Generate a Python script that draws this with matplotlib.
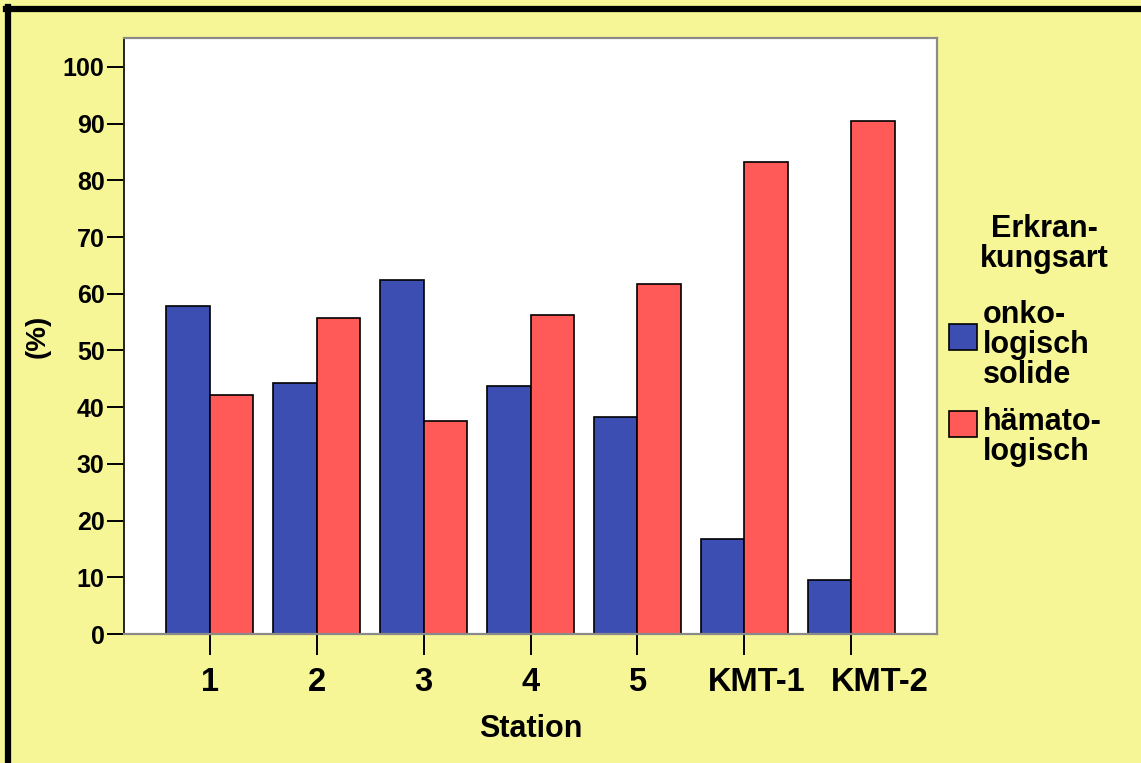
import numpy as np
import matplotlib.pyplot as plt
from matplotlib.lines import Line2D
from matplotlib.transforms import ScaledTranslation

plt.rcParams["font.family"] = ["Liberation Sans", "DejaVu Sans"]
plt.rcParams["font.weight"] = "bold"

stations = ["1", "2", "3", "4", "5", "KMT-1", "KMT-2"]
onko_solide = [57.9, 44.2, 62.5, 43.8, 38.2, 16.7, 9.5]
haemato = [42.1, 55.8, 37.5, 56.2, 61.8, 83.3, 90.5]
yticks = list(range(0, 101, 10))

BG = "#F7F696"
BLUE = "#3C4EB1"
RED = "#FF5A58"

fig = plt.figure(figsize=(11.41, 7.63), dpi=100, facecolor=BG)
ax = fig.add_axes([124 / 1141, 129 / 763, 813 / 1141, 596 / 763])
ax.set_facecolor("white")

x = np.arange(len(stations))
w = 0.41
ax.bar(x - w / 2, onko_solide, w, color=BLUE, edgecolor="black", linewidth=1.2,
       label="onko-\nlogisch\nsolide")
ax.bar(x + w / 2, haemato, w, color=RED, edgecolor="black", linewidth=1.2,
       label="hämato-\nlogisch")

ax.set_xlim(-0.8, 6.8)
ax.set_ylim(0, 105.1)
ax.set_yticks(yticks)
ax.set_xticks(x)
ax.set_xticklabels(stations)

ax.tick_params(axis="y", length=12, width=1.4, pad=2, labelsize=18, direction="out")
ax.tick_params(axis="x", length=15, width=1.4, pad=9, labelsize=23.5, direction="out")

# the long station names sit a little right of their ticks
for lab in ax.get_xticklabels():
    if lab.get_text() == "KMT-1":
        lab.set_transform(lab.get_transform() + ScaledTranslation(0.12, 0, fig.dpi_scale_trans))
    elif lab.get_text() == "KMT-2":
        lab.set_transform(lab.get_transform() + ScaledTranslation(0.28, 0, fig.dpi_scale_trans))

ax.spines["left"].set_color("#222222")
ax.spines["left"].set_linewidth(1.4)
for side in ("top", "right", "bottom"):
    ax.spines[side].set_color("#8a8a8a")
    ax.spines[side].set_linewidth(1.6)

ax.set_xlabel("Station", fontsize=22, fontweight="bold", labelpad=11)
ax.set_ylabel("(%)", fontsize=20, fontweight="bold", labelpad=9)

leg = ax.legend(loc="upper left", bbox_to_anchor=(949 / 1141, 1 - 300 / 763),
                bbox_transform=fig.transFigure, frameon=False, fontsize=22,
                handlelength=0.92, handleheight=0.92, handletextpad=0.2,
                labelspacing=0.57, borderpad=0, borderaxespad=0)
for t in leg.get_texts():
    t.set_linespacing(1.0)
# lift the colour boxes a little towards the first text lines
for patch, lift in zip(leg.legend_handles, (6.5, 10.5)):
    patch.set_y(patch.get_y() + lift)

fig.text(1044 / 1141, 1 - 244 / 763, "Erkran-\nkungsart", fontsize=22,
         fontweight="bold", ha="center", va="center", multialignment="center",
         linespacing=1.0)

# black frame along the top and left edge of the figure
fig.add_artist(Line2D([6 / 1141, 1], [1 - 9 / 763, 1 - 9 / 763], color="black",
                      linewidth=4.5, transform=fig.transFigure))
fig.add_artist(Line2D([8 / 1141, 8 / 1141], [0, 1 - 7 / 763], color="black",
                      linewidth=4.5, transform=fig.transFigure))

fig.savefig("out.png", dpi=100, facecolor=BG)
